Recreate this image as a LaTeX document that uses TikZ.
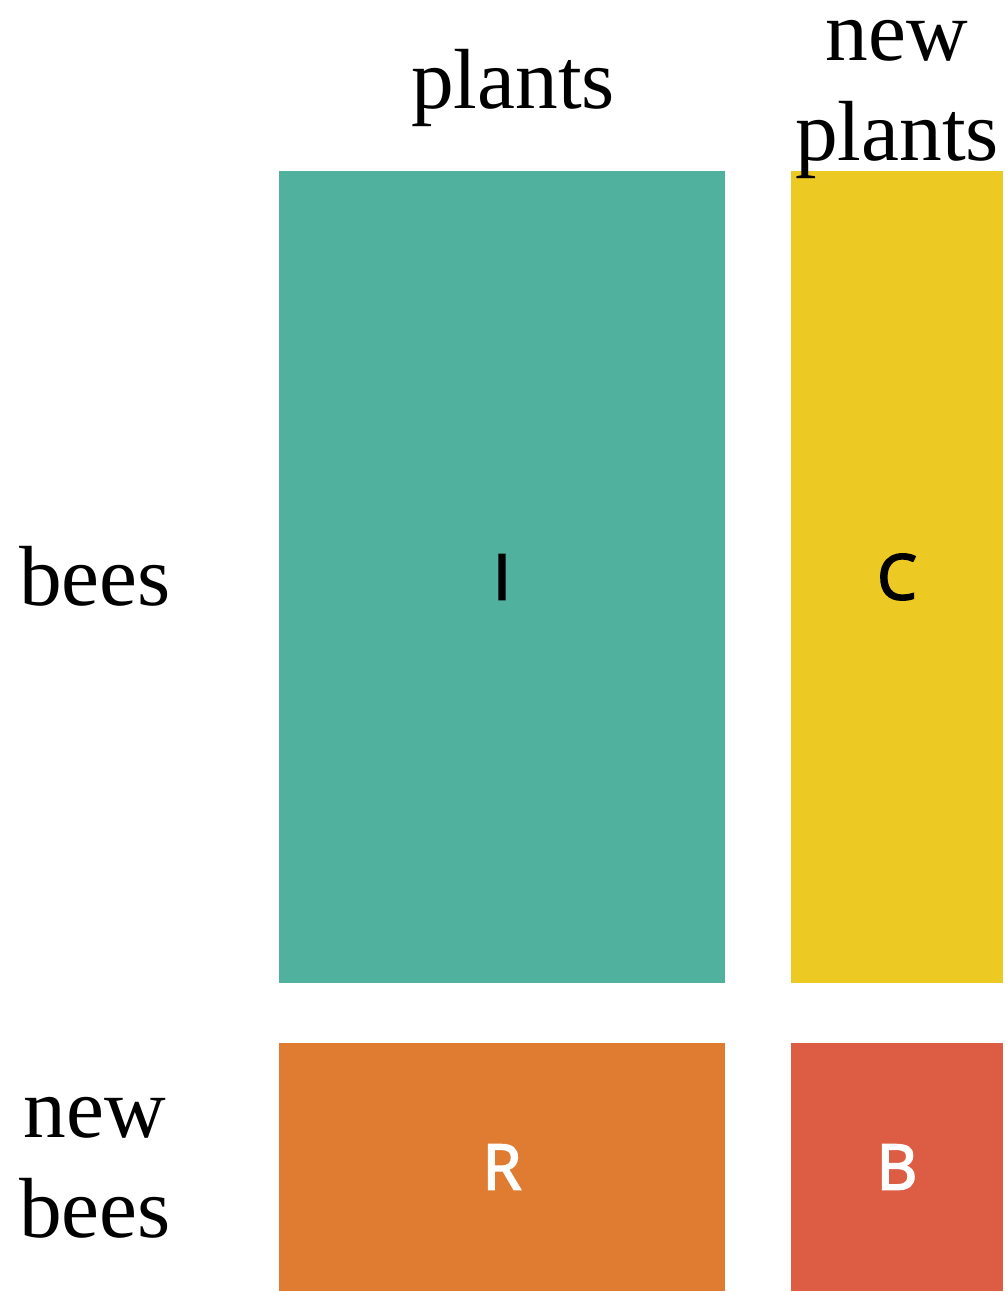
\documentclass[tikz,border=0pt]{standalone}
\usepackage{fontspec}
\setmainfont{Liberation Serif}
\newfontfamily\cellfont{Open Sans}[FakeBold=3]
\definecolor{tealcell}{HTML}{50B29E}
\definecolor{yellowcell}{HTML}{EDC924}
\definecolor{orangecell}{HTML}{E07C31}
\definecolor{redcell}{HTML}{DC5C44}
\tikzset{
  cell/.style={inner sep=0pt,outer sep=0pt,font=\cellfont\fontsize{47}{50}\selectfont},
  head/.style={inner sep=0pt,align=center,font=\fontsize{64}{75}\selectfont}
}
\begin{document}
\begin{tikzpicture}[x=.75pt,y=-.75pt]
\useasboundingbox (0,0) rectangle (1004,1292);
% cells
\node[cell,fill=tealcell,minimum width=334.5pt,minimum height=609pt] (I) at (502,577) {I};
\node[cell,fill=yellowcell,minimum width=159pt,minimum height=609pt] (C) at (897,577) {C};
\node[cell,fill=orangecell,text=white,minimum width=334.5pt,minimum height=186pt] (R) at (502,1167) {R};
\node[cell,fill=redcell,text=white,minimum width=159pt,minimum height=186pt] (B) at (897,1167) {B};
% headings
\node[head] (plants) at (513,88) {plants};
\node[head] (newplants) at (897,99) {new\\plants};
\node[head] (bees) at (95,576) {bees};
\node[head] (newbees) at (95,1168) {new\\bees};
\end{tikzpicture}
\end{document}
